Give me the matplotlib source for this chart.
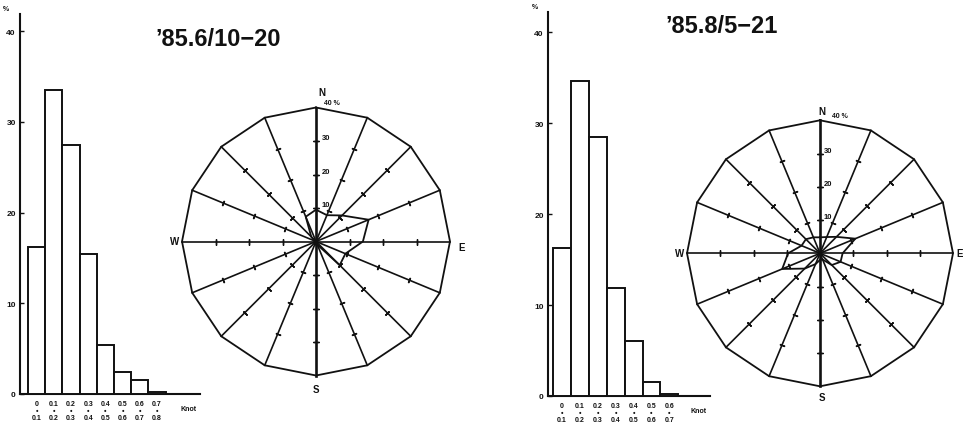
import numpy as np
import matplotlib
matplotlib.use("Agg")
import matplotlib.pyplot as plt

plt.rcParams['font.family'] = ['Liberation Sans', 'DejaVu Sans']

W_PX, H_PX = 963, 431
INK = "#111111"

# wind speed histograms: class lower bound (knot) -> frequency (%)
bins_lo_1 = [0.0, 0.1, 0.2, 0.3, 0.4, 0.5, 0.6, 0.7]
freq_1 = [16.2, 33.5, 27.5, 15.4, 5.4, 2.4, 1.5, 0.2]
bins_lo_2 = [0.0, 0.1, 0.2, 0.3, 0.4, 0.5, 0.6]
freq_2 = [16.3, 34.6, 28.5, 11.9, 6.0, 1.5, 0.2]

# wind direction roses (%), clockwise from N
directions = ['N', 'NNE', 'NE', 'ENE', 'E', 'ESE', 'SE', 'SSE',
              'S', 'SSW', 'SW', 'WSW', 'W', 'WNW', 'NW', 'NNW']
rose_1 = [9.5, 8.5, 11.0, 17.0, 14.0, 9.5, 10.0, 1.0,
          1.0, 0.5, 0.5, 0.5, 0.5, 0.5, 2.0, 8.0]
rose_2 = [4.8, 5.3, 7.0, 11.5, 6.8, 6.7, 5.0, 2.0,
          2.0, 3.5, 6.5, 12.3, 9.6, 6.0, 6.0, 5.2]
rose_rings = [10, 20, 30]
rose_max = 40

titles = ["\u201985.6/10\u221220", "\u201985.8/5\u221221"]


def px_axes(fig, left, top, right, bottom):
    # place an axes from pixel box (origin top-left)
    return fig.add_axes([left / W_PX, 1 - bottom / H_PX,
                         (right - left) / W_PX, (bottom - top) / H_PX])


def histogram(fig, box, lo, freq, xlim, ymax):
    ax = px_axes(fig, *box)
    ax.bar(lo, freq, width=0.1, align='edge', facecolor='white',
           edgecolor=INK, linewidth=1.4, zorder=3)
    ax.set_xlim(*xlim)
    ax.set_ylim(0, ymax)
    for s in ('top', 'right'):
        ax.spines[s].set_visible(False)
    for s in ('left', 'bottom'):
        ax.spines[s].set_linewidth(1.5)
        ax.spines[s].set_color(INK)
    ax.set_yticks([0, 10, 20, 30, 40])
    ax.tick_params(axis='y', direction='in', length=3, width=1,
                   labelsize=6, pad=3, colors=INK)
    ax.set_xticks([l + 0.05 for l in lo])
    labels = []
    for l in lo:
        a = "0" if l == 0 else f"{l:.1f}"
        labels.append(f"{a}\n\u2022\n{l + 0.1:.1f}")
    ax.set_xticklabels(labels, fontsize=5, fontweight='bold', linespacing=1.0)
    ax.tick_params(axis='x', length=0, pad=4, colors=INK)
    ax.text(xlim[1] - 0.02, -1.2, "Knot", fontsize=5, fontweight='bold',
            ha='right', va='top', color=INK)
    ax.text(-0.08, 1.005, "%", transform=ax.transAxes, fontsize=5,
            fontweight='bold', ha='center', va='bottom', color=INK)
    for t in ax.get_yticklabels():
        t.set_fontweight('bold')
    return ax


def rose(fig, cx, cy, r_px, values, lab):
    half = 150
    ax = px_axes(fig, cx - half, cy - half, cx + half, cy + half)
    lim = half * rose_max / r_px
    ax.set_xlim(-lim, lim)
    ax.set_ylim(-lim, lim)
    ax.axis('off')
    deg = np.arange(len(directions)) * 22.5
    ux, uy = np.sin(np.deg2rad(deg)), np.cos(np.deg2rad(deg))
    for i in range(len(directions)):
        lw = 1.9 if i % 8 == 0 else 1.2
        ax.plot([0, rose_max * ux[i]], [0, rose_max * uy[i]], color=INK, lw=lw)
        rr = np.array(rose_rings)
        ax.plot(rr * ux[i], rr * uy[i], ls='none',
                marker=(2, 2, 90 - deg[i]), ms=4, mew=1.0, mec=INK)
    ox = np.append(rose_max * ux, rose_max * ux[0])
    oy = np.append(rose_max * uy, rose_max * uy[0])
    ax.plot(ox, oy, color=INK, lw=1.3)
    v = np.array(values)
    ax.plot(np.append(v * ux, v[0] * ux[0]), np.append(v * uy, v[0] * uy[0]),
            color=INK, lw=1.3)
    for r in rose_rings:
        ax.text(lab['ring_x'], r + 1.0, str(r), fontsize=5.5, fontweight='bold',
                ha='left', va='center', color=INK)
    ax.text(lab['pct'][0], lab['pct'][1], "40 %", fontsize=5, fontweight='bold',
            ha='center', va='center', color=INK)
    for name, (x, y) in lab['compass'].items():
        ax.text(x, y, name, fontsize=7, fontweight='bold',
                ha='center', va='center', color=INK)
    return ax


fig = plt.figure(figsize=(W_PX / 100, H_PX / 100), dpi=100)
fig.patch.set_facecolor('white')

histogram(fig, (20, 15, 200, 395), bins_lo_1, freq_1, (-0.047, 1.0), 41.9)
histogram(fig, (548, 13, 710, 397), bins_lo_2, freq_2, (-0.028, 0.877), 42.2)

rose(fig, 316, 242.5, 134, rose_1,
     {'ring_x': 1.8, 'pct': (4.6, 41.6),
      'compass': {'N': (1.7, 44.6), 'E': (43.5, -1.6),
                  'W': (-42.1, 0), 'S': (-0.1, -44.0)}})
rose(fig, 820, 254.3, 133, rose_2,
     {'ring_x': 1.2, 'pct': (6.0, 41.4),
      'compass': {'N': (0.5, 42.9), 'E': (41.9, 0),
                  'W': (-42.3, 0), 'S': (0.5, -43.3)}})

fig.text(155 / W_PX, 1 - 46 / H_PX, titles[0], fontsize=17, fontweight='bold',
         ha='left', va='baseline', color=INK)
fig.text(665 / W_PX, 1 - 33 / H_PX, titles[1], fontsize=17, fontweight='bold',
         ha='left', va='baseline', color=INK)

fig.savefig("out.png", dpi=100, facecolor='white')
